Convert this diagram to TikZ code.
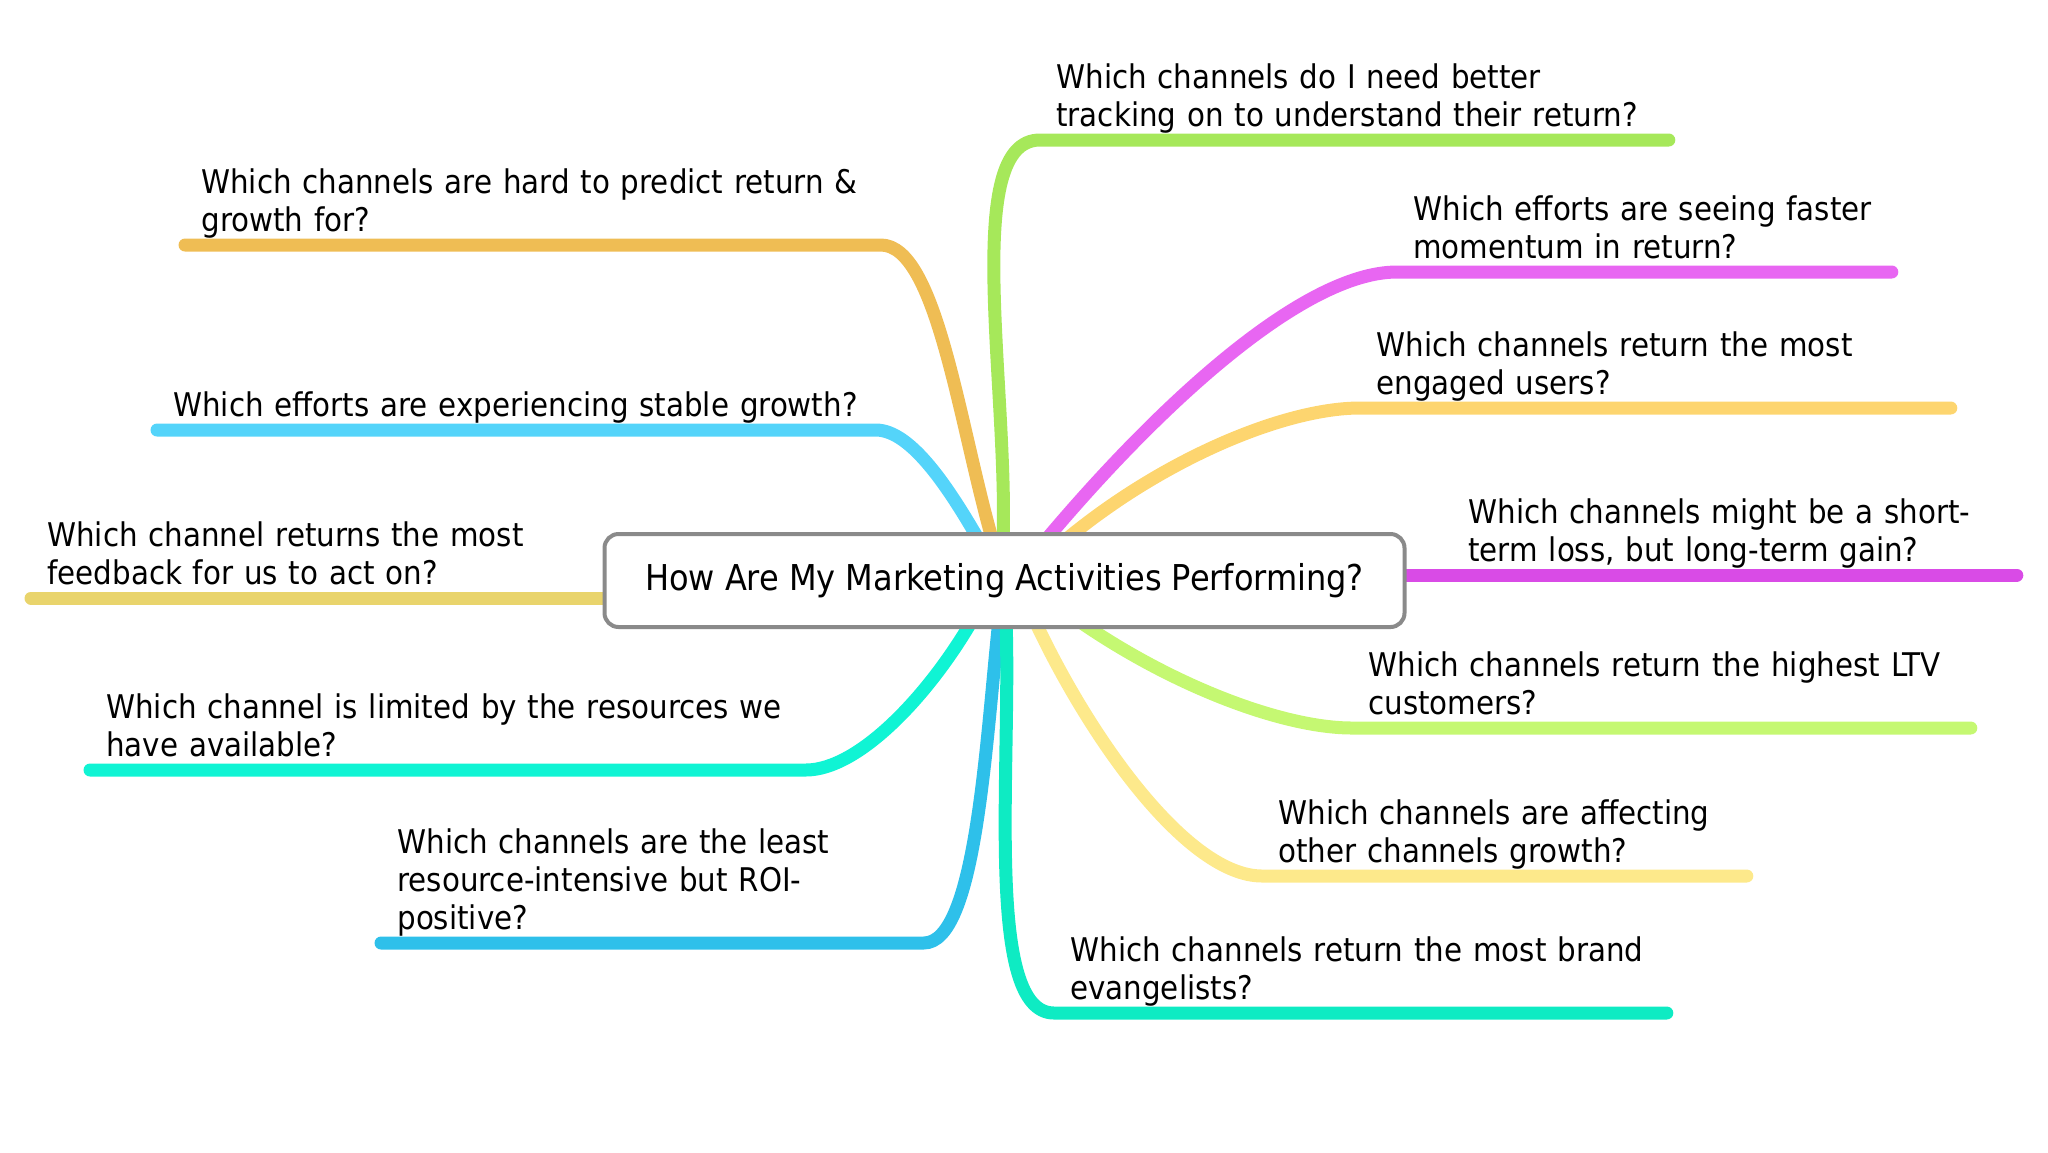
\documentclass[tikz,border=0pt]{standalone}
\usepackage{fontspec}
\setmainfont{DejaVu Sans Condensed}
\usepackage{xcolor}
\usetikzlibrary{backgrounds,calc}

\definecolor{cOrange}{RGB}{239,189,84}
\definecolor{cSky}{RGB}{84,212,250}
\definecolor{cOlive}{RGB}{233,212,108}
\definecolor{cCyan}{RGB}{16,244,212}
\definecolor{cBlue}{RGB}{46,192,234}
\definecolor{cGreen}{RGB}{166,232,90}
\definecolor{cPink}{RGB}{232,102,242}
\definecolor{cApricot}{RGB}{253,213,111}
\definecolor{cViolet}{RGB}{217,75,230}
\definecolor{cLime}{RGB}{197,248,114}
\definecolor{cCream}{RGB}{253,233,139}
\definecolor{cAqua}{RGB}{14,235,195}
\definecolor{hubgray}{RGB}{138,138,138}

\newcommand{\dstrut}{\rule[-4.5pt]{0pt}{4.5pt}}

\begin{document}
\begin{tikzpicture}[x=0.5pt, y=0.5pt,
  hub/.style={draw=hubgray, line width=2pt, rounded corners=7pt, fill=white,
              minimum width=400pt, minimum height=46.5pt, inner sep=0pt,
              font=\fontsize{17.8}{21}\selectfont},
  leaf/.style={anchor=south west, align=left, inner xsep=8pt, inner ysep=2pt,
               font=\fontsize{16.3}{19}\selectfont, execute at end node=\dstrut},
  br/.style={line width=6.5pt, line cap=round, line join=round},
]
  \useasboundingbox (0,0) rectangle (2048,-1152);

  \node[hub] (hub) at (1004.5,-580.5) {How Are My Marketing Activities Performing?};

  \node[leaf, text width=331.5pt] (q1) at (185,-245) {Which channels are hard to predict return \&\\growth for?};
  \node[leaf, text width=343pt] (q2) at (157,-430) {Which efforts are experiencing stable growth?};
  \node[leaf, text width=271.75pt] (q3) at (31,-598) {Which channel returns the most\\feedback for us to act on?};
  \node[leaf, text width=341.5pt] (q4) at (90,-770) {Which channel is limited by the resources we\\have available?};
  \node[leaf, text width=255pt] (q5) at (381,-943) {Which channels are the least\\resource-intensive but ROI-\\positive?};

  \node[leaf, text width=298pt] (q6) at (1040,-140) {Which channels do I need better\\tracking on to understand their return?};
  \node[leaf, text width=231pt] (q7) at (1397,-272) {Which efforts are seeing faster\\momentum in return?};
  \node[leaf, text width=279pt] (q8) at (1360,-408) {Which channels return the most\\engaged users?};
  \node[leaf, text width=266pt] (q9) at (1452,-575) {Which channels might be a short-\\term loss, but long-term gain?};
  \node[leaf, text width=293pt] (q10) at (1352,-728) {Which channels return the highest LTV\\customers?};
  \node[leaf, text width=226pt] (q11) at (1262,-876) {Which channels are affecting\\other channels growth?};
  \node[leaf, text width=290pt] (q12) at (1054,-1013) {Which channels return the most brand\\evangelists?};

  \begin{pgfonlayer}{background}
    \draw[br, cOrange] ([xshift=-5.75pt,yshift=-5pt]hub.north) to[out=106, in=0, in looseness=0.45] (q1.south east) -- (q1.south west);
    \draw[br, cSky] ([xshift=-12.25pt,yshift=-5pt]hub.north) to[out=120, in=0, in looseness=0.6] (q2.south east) -- (q2.south west);
    \draw[br, cOlive] (hub.west |- q3.south) -- (q3.south west);
    \draw[br, cCyan] ([xshift=-15.75pt,yshift=5pt]hub.south) to[out=-120, in=0, in looseness=0.6] (q4.south east) -- (q4.south west);
    \draw[br, cBlue] ([xshift=-2.75pt,yshift=5pt]hub.south) to[out=-96, in=0, in looseness=0.4] (q5.south east) -- (q5.south west);

    \draw[br, cGreen] ([xshift=-0.75pt,yshift=-5pt]hub.north) to[out=88, in=180, in looseness=0.5] (q6.south west) -- (q6.south east);
    \draw[br, cPink] ([xshift=19.75pt,yshift=-5pt]hub.north) to[out=50, in=180, in looseness=0.55] (q7.south west) -- (q7.south east);
    \draw[br, cApricot] ([xshift=29.25pt,yshift=-5pt]hub.north) to[out=40, in=180, in looseness=0.6] (q8.south west) -- (q8.south east);
    \draw[br, cViolet] (hub.east |- q9.south) -- (q9.south east);
    \draw[br, cLime] ([xshift=35.75pt,yshift=5pt]hub.south) to[out=-35, in=180, in looseness=0.6] (q10.south west) -- (q10.south east);
    \draw[br, cCream] ([xshift=14.75pt,yshift=5pt]hub.south) to[out=-65, in=180, in looseness=0.55] (q11.south west) -- (q11.south east);
    \draw[br, cAqua] ([xshift=0.75pt,yshift=5pt]hub.south) to[out=-88, in=180, in looseness=0.45] (q12.south west) -- (q12.south east);
  \end{pgfonlayer}
\end{tikzpicture}
\end{document}
